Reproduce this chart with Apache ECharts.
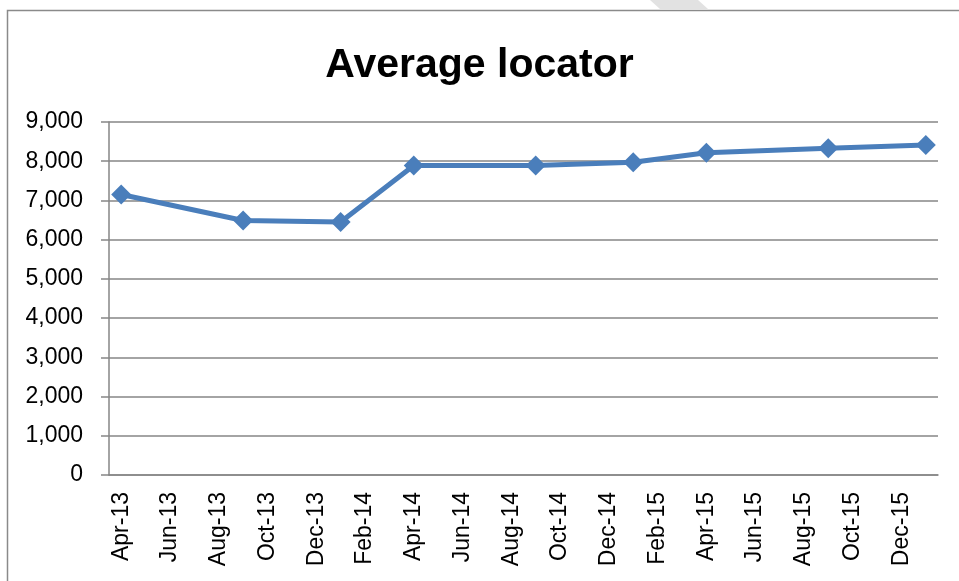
<!DOCTYPE html>
<html><head><meta charset="utf-8">
<script src="https://cdn.jsdelivr.net/npm/echarts@6/dist/echarts.min.js"></script>
<style>html,body{margin:0;padding:0;background:#fff}#c{width:959px;height:581px}</style>
</head><body><div id="c"></div>
<script>
// Monthly category slots from Apr-13 to Jan-16 (date axis, 2-month label step)
const months = ['Apr-13','May-13','Jun-13','Jul-13','Aug-13','Sep-13','Oct-13','Nov-13','Dec-13','Jan-14','Feb-14','Mar-14',
  'Apr-14','May-14','Jun-14','Jul-14','Aug-14','Sep-14','Oct-14','Nov-14','Dec-14','Jan-15','Feb-15','Mar-15',
  'Apr-15','May-15','Jun-15','Jul-15','Aug-15','Sep-15','Oct-15','Nov-15','Dec-15','Jan-16'];
const pointMonths = ['Apr-13','Sep-13','Jan-14','Apr-14','Sep-14','Jan-15','Apr-15','Sep-15','Jan-16'];
const pointValues = [7150, 6490, 6450, 7890, 7890, 7975, 8215, 8330, 8415];
const yTicks = [0, 1000, 2000, 3000, 4000, 5000, 6000, 7000, 8000, 9000];

const seriesData = months.map(m => {
  const i = pointMonths.indexOf(m);
  return i >= 0 ? pointValues[i] : null;
});

const chart = echarts.init(document.getElementById('c'));
const font = '"Liberation Sans", Arial, sans-serif';
chart.setOption({
  animation: false,
  backgroundColor: '#fff',
  title: {
    text: 'Average locator', left: 'center', top: 40,
    textStyle: { fontFamily: font, fontSize: 41, fontWeight: 'bold', color: '#000' }
  },
  graphic: [
    { type: 'polyline', shape: { points: [[7.5, 581], [7.5, 10.5], [959, 10.5]] },
      style: { stroke: '#8a8a8a', lineWidth: 1.5, fill: null } },
    { type: 'polygon', shape: { points: [[650, 0], [698, 0], [708, 9], [660, 9]] },
      style: { fill: '#e2e2e2' } }
  ],
  grid: { left: 109, right: 21, top: 122, bottom: 106 },
  xAxis: {
    type: 'category', data: months, boundaryGap: true,
    axisLine: { lineStyle: { color: '#868686', width: 1.5 } },
    axisTick: { interval: 1, length: 8, lineStyle: { color: '#868686', width: 1.5 } },
    axisLabel: { interval: 1, rotate: 90, fontFamily: font, fontSize: 23, color: '#000', margin: 17 }
  },
  yAxis: {
    type: 'value', min: yTicks[0], max: yTicks[yTicks.length - 1], interval: 1000,
    axisLine: { show: true, lineStyle: { color: '#868686', width: 1.5 } },
    axisTick: { show: true, length: 8, lineStyle: { color: '#868686', width: 1.5 } },
    splitLine: { lineStyle: { color: '#868686', width: 1.5 } },
    axisLabel: { fontFamily: font, fontSize: 23, color: '#000', margin: 26,
      formatter: v => v.toLocaleString('en-US') }
  },
  series: [{
    type: 'line', data: seriesData, connectNulls: true,
    showAllSymbol: true,
    symbol: 'diamond', symbolSize: 20,
    lineStyle: { color: '#4a7ebb', width: 5 },
    itemStyle: { color: '#4a7ebb' }
  }]
});
</script></body></html>
